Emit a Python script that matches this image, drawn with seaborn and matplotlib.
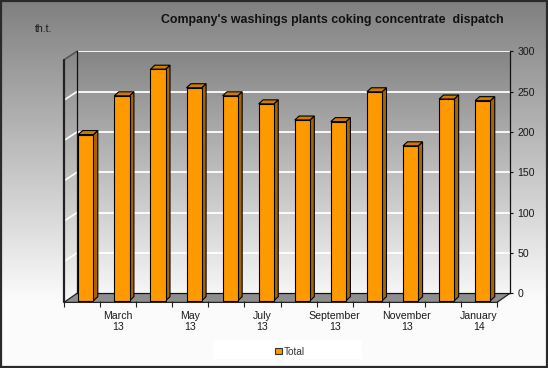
import numpy as np
import matplotlib
matplotlib.use("Agg")
import matplotlib.pyplot as plt
import seaborn as sns
import pandas as pd
from matplotlib.patches import Polygon, Rectangle, Patch
from matplotlib.transforms import ScaledTranslation

# ---------------- data ----------------
months = ["February\n13", "March\n13", "April\n13", "May\n13", "June\n13", "July\n13",
          "August\n13", "September\n13", "October\n13", "November\n13", "December\n13", "January\n14"]
values = [206, 254, 287, 264, 254, 244, 224, 222, 259, 192, 250, 248]
yticks = [0, 50, 100, 150, 200, 250, 300]
title = "Company's washings plants coking concentrate  dispatch"
unit = "th.t."
series_name = "Total"

# ---------------- layout (pixels) ----------------
W, H = 548, 368
BX0, BX1, BY0, BY1 = 77, 510, 51.3, 293.3      # back wall
DX, DY = -13, 8.5                               # depth of floor / left wall
FBOT = 300.7                                    # bar baseline (front plane)

sns.set_theme(style="white")
plt.rcParams['font.family'] = ['Liberation Sans', 'DejaVu Sans']

fig = plt.figure(figsize=(W / 100, H / 100), dpi=100)

# background axes in pixel coordinates
bg = fig.add_axes([0, 0, 1, 1], zorder=-1)
bg.set_xlim(0, W)
bg.set_ylim(H, 0)
bg.axis('off')

def vgrad(top, bottom, n=256):
    g = np.linspace(top, bottom, n)
    return np.dstack([g, g, g]).reshape(n, 1, 3)

g = np.concatenate([np.linspace(0.50, 0.985, 300), np.full(68, 0.985)])
bg.imshow(np.dstack([g, g, g]).reshape(-1, 1, 3), extent=(0, W, H, 0), aspect='auto', zorder=0)

# left wall
lw_poly = Polygon([(BX0, BY0), (BX0, BY1), (BX0 + DX, BY1 + DY), (BX0 + DX, BY0 + DY)],
                  closed=True, facecolor='none', edgecolor='none')
bg.add_patch(lw_poly)
im = bg.imshow(vgrad(0.53, 0.97), extent=(BX0 + DX, BX0, BY1 + DY, BY0), aspect='auto', zorder=1)
im.set_clip_path(lw_poly)
for v in yticks[1:-1]:
    yy = BY1 - (BY1 - BY0) * v / 300
    bg.plot([BX0, BX0 + DX], [yy, yy + DY], color='white', lw=1.2, zorder=2)
bg.plot([BX0, BX0 + DX], [BY0, BY0 + DY], color='#555555', lw=1.2, zorder=3)
bg.plot([BX0 + DX, BX0 + DX], [BY0 + DY, BY1 + DY], color='#222222', lw=1.6, zorder=3)

# floor
floor = Polygon([(BX0, BY1), (BX1, BY1), (BX1 + DX, BY1 + DY + 0.6), (BX0 + DX, BY1 + DY + 0.6)],
                closed=True, facecolor='#8e8e8e', edgecolor='#222222', lw=0.9, zorder=2)
bg.add_patch(floor)

# legend box
bg.add_patch(Rectangle((213, 340), 149, 19, facecolor='white', edgecolor='none', zorder=2))
# figure border
bg.add_patch(Rectangle((0.8, 0.8), W - 1.6, H - 1.6, facecolor='none', edgecolor='#2a2a2a', lw=1.6, zorder=5))

# back wall axes
ax = fig.add_axes([BX0 / W, 1 - BY1 / H, (BX1 - BX0) / W, (BY1 - BY0) / H], zorder=1)
ax.set_xlim(-0.5, len(months) - 0.5)
ax.set_ylim(0, 300)
ax.imshow(vgrad(0.52, 0.965), extent=(-0.5, len(months) - 0.5, 0, 300), aspect='auto', zorder=0)
ax.set_yticks(yticks)
ax.set_yticklabels([str(v) for v in yticks])
ax.yaxis.tick_right()
ax.set_xticks([])
ax.grid(axis='y', color='white', lw=1.3)
ax.grid(axis='x', visible=False)
for s in ['top']:
    ax.spines[s].set_visible(False)
for s in ['left', 'bottom', 'right']:
    ax.spines[s].set_color('#111111')
    ax.spines[s].set_linewidth(0.9)
ax.tick_params(axis='y', which='both', right=True, left=False, length=2.3, width=0.8,
               color='#111111', pad=3.0, labelsize=7.6, labelcolor='#1a1a1a')
ax.set_ylabel('')

# front plane axes with bars
FX0 = BX0 + DX
ax2 = fig.add_axes([FX0 / W, 1 - FBOT / H, (BX1 - BX0) / W, (BY1 - BY0) / H], zorder=3)
ax2.patch.set_alpha(0)
df = pd.DataFrame({"month": months, "value": values})
sns.barplot(data=df, x="month", y="value", ax=ax2, color='#FF9900', saturation=1,
            width=0.42, edgecolor='black', linewidth=0.8)
ax2.set_xlim(-0.5, len(months) - 0.5)
ax2.set_ylim(0, 300)

slot_px = (BX1 - BX0) / len(months)
ppu = (BY1 - BY0) / 300
shift = ScaledTranslation(3.8 / 100, 0, fig.dpi_scale_trans)
ddx = 4.4 / slot_px
ddy = 4.0 / ppu
for p in list(ax2.patches):
    x0, w, h = p.get_x(), p.get_width(), p.get_height()
    tr = ax2.transData + shift
    p.set_transform(tr)
    p.set_zorder(3)
    side = Polygon([(x0 + w, 0), (x0 + w + ddx, ddy), (x0 + w + ddx, h + ddy), (x0 + w, h)],
                   closed=True, facecolor='#A86400', edgecolor='black', lw=0.8,
                   transform=tr, zorder=2, clip_on=False)
    top = Polygon([(x0, h), (x0 + ddx, h + ddy), (x0 + w + ddx, h + ddy), (x0 + w, h)],
                  closed=True, facecolor='#CC7A00', edgecolor='black', lw=0.8,
                  transform=tr, zorder=2, clip_on=False)
    ax2.add_patch(side)
    ax2.add_patch(top)
    p.set_clip_on(False)

for s in ax2.spines.values():
    s.set_visible(False)
ax2.set_yticks([])
ax2.set_xlabel('')
ax2.set_ylabel('')
label_pos = list(range(1, len(months), 2))
ax2.set_xticks(label_pos)
ax2.set_xticklabels([months[i] for i in label_pos], fontsize=7.6, color='#1a1a1a', linespacing=1.15)
ax2.set_xticks([i + 0.5 for i in range(-1, len(months))], minor=True)
ax2.tick_params(axis='x', which='major', length=0, pad=7.5)
ax2.tick_params(axis='x', which='minor', bottom=True, length=4, width=0.8, color='#222222', direction='out')

# texts
fig.text(332 / W, 1 - 20.5 / H, title, ha='center', va='center', fontsize=8.9,
         fontweight='bold', color='#111111')
fig.text(35 / W, 1 - 29.5 / H, unit, ha='left', va='center', fontsize=7.6, color='#1a1a1a')

fig.legend(handles=[Patch(facecolor='#FF9900', edgecolor='#333333', lw=0.8)], labels=[series_name],
           loc='center', bbox_to_anchor=(290 / W, 1 - 352 / H), frameon=False, fontsize=7.2,
           handlelength=0.7, handleheight=0.55, handletextpad=0.15, labelcolor='#333333')

fig.savefig("out.png", dpi=100)
